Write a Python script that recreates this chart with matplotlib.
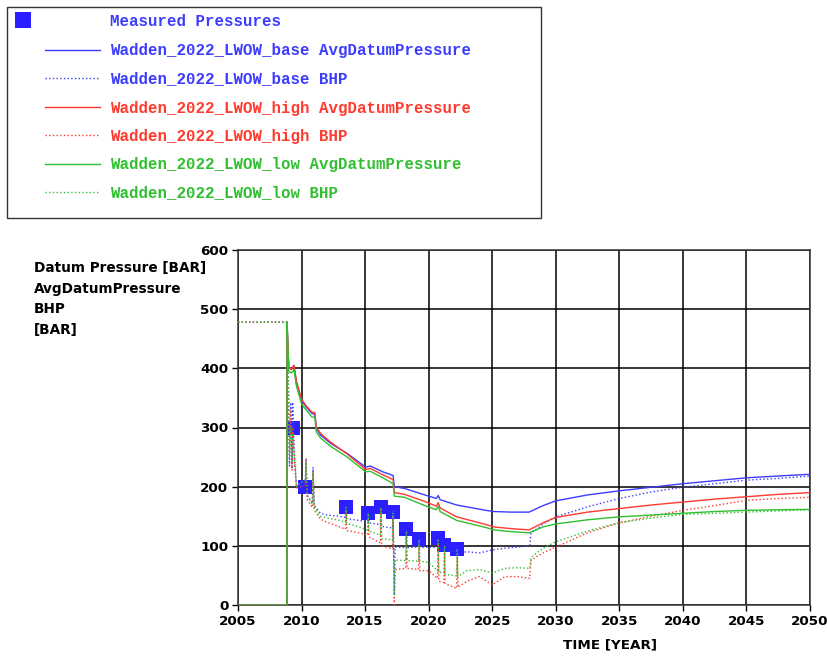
import matplotlib
matplotlib.use("Agg")
import matplotlib.pyplot as plt
from matplotlib.lines import Line2D
from matplotlib.patches import Rectangle

# ── Data ────────────────────────────────────────────────────────────────────
AVG_T = [2005.0, 2008.85, 2008.86, 2008.96, 2009.0, 2009.2, 2009.4, 2009.6, 2010.0, 2010.35,
         2010.8, 2011.05, 2011.15, 2011.5, 2012.3, 2013.6, 2015.05, 2015.4, 2016.4, 2017.2,
         2017.3, 2018.1, 2019.7, 2020.6, 2020.75, 2020.9, 2022.2, 2024.5, 2025.1, 2026.5,
         2027.9, 2029.0, 2030.0, 2032.5, 2035.0, 2037.5, 2040.0, 2042.5, 2045.0, 2047.5,
         2050.0]
BASE_AVG = [0, 0, 478, 419, 402, 398, 405, 375, 346, 335,
            324, 322, 299, 287, 273, 256, 233, 235, 225, 219,
            200, 197, 186, 180, 185, 178, 169, 160, 158, 157,
            157, 168, 176, 186, 193, 199, 205, 210, 215, 218,
            221]
HIGH_AVG = [0, 0, 478, 419, 402, 398, 405, 378, 348, 337,
            326, 325, 301, 290, 275, 255, 229, 231, 220, 212,
            190, 187, 175, 167, 173, 164, 149, 136, 132, 129,
            127, 139, 148, 157, 163, 169, 174, 179, 183, 187,
            190]
LOW_AVG = [0, 0, 478, 415, 395, 392, 398, 370, 340, 330,
           318, 317, 293, 282, 268, 250, 225, 226, 215, 205,
           184, 182, 168, 161, 167, 158, 143, 131, 127, 124,
           122, 132, 137, 144, 149, 152, 155, 158, 160, 161,
           161.5]

BHP_T = [2005.0, 2008.85, 2008.95, 2009.05, 2009.15,
         2009.25, 2009.3, 2009.45, 2009.6, 2010.0,
         2010.3, 2010.35, 2010.45, 2010.85, 2010.9,
         2011.0, 2011.5, 2012.0, 2013.0, 2013.45,
         2013.5, 2013.55, 2014.5, 2015.2, 2015.25,
         2015.3, 2016.2, 2016.25, 2016.3, 2017.15,
         2017.2, 2017.3, 2017.35, 2017.4, 2018.2,
         2018.25, 2018.3, 2019.2, 2019.25, 2019.3,
         2020.0, 2020.7, 2020.75, 2020.8, 2021.2,
         2021.25, 2021.3, 2022.2, 2022.25, 2022.3,
         2023.0, 2024.0, 2025.0, 2026.0, 2027.0,
         2027.95, 2028.05, 2028.5, 2029.0, 2030.0,
         2032.5, 2035.0, 2037.5, 2040.0, 2042.5,
         2045.0, 2047.5, 2050.0]
BASE_BHP = [478, 478, 390, 235, 342,
            230, 343, 250, 200, 205,
            208, 248, 185, 172, 233,
            168, 155, 152, 150, 148,
            165, 146, 143, 141, 155,
            139, 136, 165, 133, 130,
            158, 20, 98, 98, 97,
            128, 97, 98, 111, 97,
            98, 97, 113, 95, 93,
            102, 92, 90, 95, 88,
            90, 88, 93, 96, 98,
            100, 122, 128, 137, 149,
            166, 180, 191, 199, 205,
            211, 214, 218]
HIGH_BHP = [478, 478, 380, 260, 330,
            228, 300, 240, 198, 200,
            203, 245, 178, 165, 225,
            160, 145, 140, 132, 128,
            158, 126, 122, 118, 148,
            115, 105, 160, 100, 95,
            148, 0, 60, 60, 62,
            118, 62, 60, 100, 58,
            58, 45, 105, 40, 38,
            90, 36, 28, 82, 30,
            40, 48, 34, 48, 48,
            45, 75, 82, 88, 98,
            122, 139, 150, 160, 168,
            177, 180, 182]
LOW_BHP = [478, 478, 385, 250, 300,
           240, 290, 245, 200, 208,
           210, 240, 185, 170, 225,
           165, 150, 147, 143, 140,
           165, 138, 132, 127, 155,
           125, 118, 165, 112, 110,
           155, 15, 76, 76, 75,
           125, 75, 74, 110, 74,
           72, 58, 112, 56, 54,
           100, 52, 49, 95, 48,
           58, 60, 54, 62, 63,
           62, 80, 88, 96, 107,
           125, 139, 147, 153, 155,
           157, 159, 161]

MEAS_T = [2009.35, 2010.27, 2013.47, 2015.25, 2016.25, 2017.2, 2018.22, 2019.24, 2020.74, 2021.2, 2022.2]
MEAS_P = [299, 200, 166, 155, 166, 158, 129, 112, 114, 102, 95]

X_TICKS = list(range(2005, 2051, 5))
Y_TICKS = list(range(0, 601, 100))

LEGEND_LABELS = [
    "Measured Pressures",
    "Wadden_2022_LWOW_base AvgDatumPressure",
    "Wadden_2022_LWOW_base BHP",
    "Wadden_2022_LWOW_high AvgDatumPressure",
    "Wadden_2022_LWOW_high BHP",
    "Wadden_2022_LWOW_low AvgDatumPressure",
    "Wadden_2022_LWOW_low BHP",
]
Y_LABEL_LINES = ["Datum Pressure [BAR]", "AvgDatumPressure", "BHP", "[BAR]"]

BLUE = "#3c3cff"
RED = "#ff3a2e"
GREEN = "#2fbf2f"
MEAS = "#2b1fff"

W, H = 828, 657


def fx(px):
    return px / W


def fy(py):
    return 1 - py / H


fig = plt.figure(figsize=(W / 100, H / 100), dpi=100)
ax = fig.add_axes([fx(238), fy(605), (810 - 238) / W, (605 - 250) / H])

series = [
    (AVG_T, BASE_AVG, BLUE, "-"),
    (BHP_T, BASE_BHP, BLUE, ":"),
    (AVG_T, HIGH_AVG, RED, "-"),
    (BHP_T, HIGH_BHP, RED, ":"),
    (AVG_T, LOW_AVG, GREEN, "-"),
    (BHP_T, LOW_BHP, GREEN, ":"),
]
ax.plot(MEAS_T, MEAS_P, "s", color=MEAS, markersize=10, markeredgewidth=0, zorder=2)
for t, p, c, ls in series:
    ax.plot(t, p, color=c, linestyle=ls, linewidth=1.0, zorder=3)

ax.set_xlim(2005, 2050)
ax.set_ylim(0, 600)
ax.set_xticks(X_TICKS)
ax.set_yticks(Y_TICKS)
ax.grid(True, color="black", linewidth=1.1)
ax.set_axisbelow(True)
for sp in ax.spines.values():
    sp.set_color("#333333")
    sp.set_linewidth(1.1)
ax.tick_params(direction="out", length=4, width=1, labelsize=9.7, pad=3)
for lab in ax.get_xticklabels() + ax.get_yticklabels():
    lab.set_fontweight("bold")
ax.set_xlabel("TIME [YEAR]", fontsize=9.7, fontweight="bold")
ax.xaxis.set_label_coords((610 - 238) / (810 - 238), -(645 - 605) / (605 - 250), transform=ax.transAxes)
ax.xaxis.label.set_va("center")

for i, line in enumerate(Y_LABEL_LINES):
    fig.text(fx(34), fy(268 + i * 20.7), line, fontsize=9.8, fontweight="bold",
             ha="left", va="center")

# ── Legend box ─────────────────────────────────────────────────────────────
fig.add_artist(Rectangle((fx(7), fy(218)), (541 - 7) / W, (218 - 7) / H,
                         transform=fig.transFigure, fill=False,
                         edgecolor="#333333", linewidth=1.0))
fig.add_artist(Line2D([fx(23)], [fy(20)], marker="s", markersize=11,
                      markeredgewidth=0, color=MEAS, transform=fig.transFigure))
fig.text(fx(110), fy(21), LEGEND_LABELS[0], color=BLUE, fontsize=11.3,
         family="Liberation Mono", fontweight="bold", va="center")
row_y = [50, 78, 107, 135, 164, 192]
for (t, p, c, ls), yy, label in zip(series, row_y, LEGEND_LABELS[1:]):
    fig.add_artist(Line2D([fx(45), fx(100)], [fy(yy), fy(yy)], color=c,
                          linestyle=ls, linewidth=1.0, transform=fig.transFigure))
    fig.text(fx(110), fy(yy + 1), label, color=c, fontsize=11.3,
             family="Liberation Mono", fontweight="bold", va="center")

fig.savefig("out.png", dpi=100)
